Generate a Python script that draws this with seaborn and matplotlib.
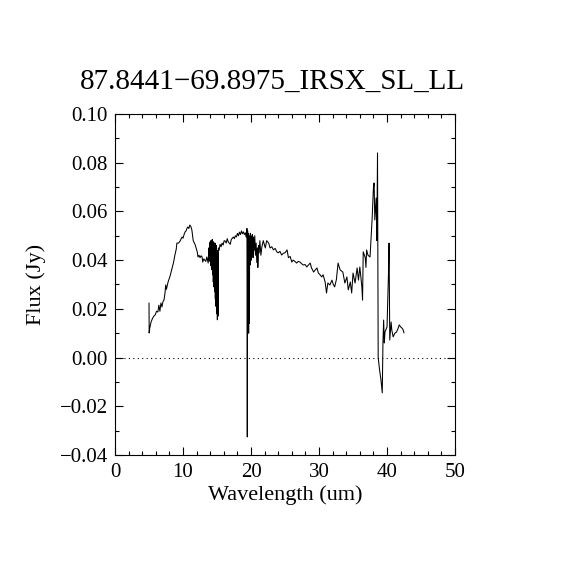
import matplotlib
matplotlib.use("Agg")
import matplotlib.pyplot as plt
from matplotlib.ticker import MultipleLocator
import seaborn as sns
import pandas as pd

title = "87.8441\u221269.8975_IRSX_SL_LL"
xlabel = "Wavelength (um)"
ylabel = "Flux (Jy)"
xticks = [0, 10, 20, 30, 40, 50]
yticks = [-0.04, -0.02, 0.00, 0.02, 0.04, 0.06, 0.08, 0.10]

wl_a = [5.00, 5.02, 5.10, 5.30, 5.50, 5.70, 5.90, 6.10, 6.30, 6.45, 6.60, 6.75, 6.90, 7.05, 7.20, 7.35,
        7.45, 7.55, 7.80, 8.10, 8.40, 8.60, 8.80, 9.00, 9.10, 9.35, 9.60, 9.85, 10.00, 10.15, 10.30,
        10.45, 10.60, 10.70, 10.85, 11.00, 11.15, 11.30, 11.50, 11.80, 12.10, 12.20, 12.35, 12.50,
        12.65, 12.80, 12.90, 13.05, 13.20, 13.35, 13.50, 13.70]
fx_a = [0.0224, 0.0101, 0.0120, 0.0146, 0.0160, 0.0170, 0.0175, 0.0190, 0.0187, 0.0215, 0.0190, 0.0224,
        0.0208, 0.0230, 0.0236, 0.0265, 0.0298, 0.0280, 0.0310, 0.0335, 0.0368, 0.0390, 0.0420, 0.0445,
        0.0470, 0.0470, 0.0480, 0.0495, 0.0490, 0.0505, 0.0516, 0.0520, 0.0532, 0.0536, 0.0530, 0.0544,
        0.0538, 0.0524, 0.0480, 0.0462, 0.0433, 0.0413, 0.0420, 0.0410, 0.0418, 0.0413, 0.0392, 0.0405,
        0.0400, 0.0395, 0.0413, 0.0388]

wl_b = [13.80, 13.85, 13.90, 13.95, 14.00, 14.05, 14.10, 14.15, 14.20, 14.25, 14.30, 14.35, 14.40,
        14.45, 14.50, 14.55, 14.60, 14.65, 14.70, 14.75, 14.80, 14.85, 14.90, 14.95, 15.00, 15.05,
        15.10, 15.15, 15.20]
fx_b = [0.0450, 0.0400, 0.0470, 0.0395, 0.0475, 0.0380, 0.0480, 0.0375, 0.0470, 0.0360, 0.0485,
        0.0340, 0.0470, 0.0310, 0.0475, 0.0290, 0.0460, 0.0270, 0.0470, 0.0240, 0.0455, 0.0210,
        0.0460, 0.0180, 0.0440, 0.0155, 0.0430, 0.0170, 0.0450]

wl_c = [15.30, 15.45, 15.60, 15.75, 15.90, 16.05, 16.20, 16.35, 16.50, 16.65, 16.80, 16.95, 17.10,
        17.25, 17.40, 17.55, 17.70, 17.85, 18.00, 18.15, 18.30, 18.45, 18.60, 18.75, 18.90, 19.05,
        19.20, 19.30, 19.40]
fx_c = [0.0440, 0.0465, 0.0455, 0.0470, 0.0462, 0.0480, 0.0478, 0.0470, 0.0488, 0.0475, 0.0470,
        0.0465, 0.0485, 0.0490, 0.0495, 0.0488, 0.0500, 0.0495, 0.0510, 0.0500, 0.0515, 0.0505,
        0.0520, 0.0508, 0.0516, 0.0505, 0.0512, 0.0495, 0.0530]

wl_d = [19.45, 19.50, 19.55, 19.60, 19.65, 19.70, 19.75, 19.80, 19.85, 19.90, 19.95, 20.00, 20.05,
        20.10, 20.15, 20.20, 20.30, 20.35, 20.45, 20.55, 20.65, 20.75, 20.85, 20.95, 21.00, 21.10,
        21.20, 21.30]
fx_d = [-0.0326, 0.0520, 0.0110, 0.0510, 0.0100, 0.0500, 0.0140, 0.0480, 0.0380, 0.0510, 0.0420,
        0.0500, 0.0400, 0.0490, 0.0430, 0.0505, 0.0410, 0.0495, 0.0440, 0.0500, 0.0420, 0.0470,
        0.0390, 0.0450, 0.0370, 0.0460, 0.0430, 0.0480]

wl_e = [21.45, 21.60, 21.80, 22.10, 22.30, 22.60, 22.80, 23.05, 23.30, 23.55, 23.80, 24.00, 24.25,
        24.50, 24.75, 25.00, 25.30, 25.50, 25.75, 26.00, 26.20, 26.45, 26.70, 26.95, 27.20, 27.45,
        27.70, 27.95, 28.20, 28.45, 28.70, 28.90, 29.20, 29.45, 29.70, 29.90, 30.15, 30.40, 30.60,
        30.90, 31.10, 31.30, 31.60, 31.90, 32.10, 32.30]
fx_e = [0.0420, 0.0455, 0.0480, 0.0450, 0.0480, 0.0470, 0.0450, 0.0455, 0.0442, 0.0448, 0.0434,
        0.0430, 0.0436, 0.0421, 0.0428, 0.0430, 0.0442, 0.0410, 0.0415, 0.0392, 0.0400, 0.0395,
        0.0388, 0.0395, 0.0392, 0.0385, 0.0380, 0.0382, 0.0372, 0.0380, 0.0388, 0.0368, 0.0351,
        0.0360, 0.0368, 0.0347, 0.0340, 0.0331, 0.0340, 0.0310, 0.0265, 0.0306, 0.0298, 0.0318,
        0.0300, 0.0290]

wl_f = [32.55, 32.80, 33.10, 33.50, 33.80, 34.10, 34.30, 34.60, 34.80, 35.00, 35.30, 35.60, 35.80,
        36.00, 36.30, 36.40, 36.50, 36.80, 36.90, 37.00, 37.20, 37.50, 37.80, 38.00, 38.10, 38.20,
        38.40, 38.50, 38.60, 38.65, 38.70, 38.90, 39.10, 39.30, 39.40, 39.50, 39.60, 39.70, 40.00,
        40.20, 40.30, 40.40, 40.60, 40.70, 40.90, 41.15, 41.40, 41.60, 41.80, 42.00, 42.20, 42.35,
        42.50]
fx_f = [0.0320, 0.0388, 0.0360, 0.0351, 0.0306, 0.0331, 0.0278, 0.0310, 0.0265, 0.0347, 0.0306,
        0.0368, 0.0318, 0.0372, 0.0290, 0.0236, 0.0434, 0.0410, 0.0370, 0.0442, 0.0420, 0.0413,
        0.0565, 0.0696, 0.0717, 0.0565, 0.0655, 0.0480, 0.0840, 0.0413, 0.0000, -0.0050, -0.0090,
        -0.0145, 0.0060, 0.0154, 0.0060, 0.0105, 0.0126, 0.0330, 0.0470, 0.0072, 0.0146, 0.0113,
        0.0085, 0.0100, 0.0105, 0.0118, 0.0134, 0.0126, 0.0121, 0.0115, 0.0101]

wavelength = wl_a + wl_b + wl_c + wl_d + wl_e + wl_f
flux = fx_a + fx_b + fx_c + fx_d + fx_e + fx_f
df = pd.DataFrame({"wavelength": wavelength, "flux": flux})

sns.set_style("white")
plt.rcParams["font.family"] = ["Liberation Serif", "DejaVu Serif"]
plt.rcParams["axes.unicode_minus"] = True

fig = plt.figure(figsize=(5.7, 5.7), dpi=100)
ax = fig.add_axes([0.2018, 0.2018, 0.5965, 0.5982])
sns.lineplot(data=df, x="wavelength", y="flux", estimator=None, sort=False,
             color="black", linewidth=0.75, ax=ax)
ax.axhline(0.0, color="black", linewidth=0.8, linestyle=(0, (1, 3)))

ax.set_xlim(0, 50)
ax.set_ylim(-0.04, 0.10)
ax.set_xticks(xticks)
ax.set_yticks(yticks)
ax.set_xticklabels([str(v) for v in xticks])
ax.set_yticklabels([f"{v:.2f}".replace("-", "\u2212") for v in yticks])
ax.xaxis.set_minor_locator(MultipleLocator(2))
ax.yaxis.set_minor_locator(MultipleLocator(0.01))
ax.tick_params(which="both", direction="in", top=True, right=True, bottom=True, left=True,
               color="black", width=0.8, labelsize=15, labelcolor="black")
ax.tick_params(which="major", length=6)
ax.tick_params(which="minor", length=3)
ax.tick_params(axis="x", which="major", pad=6)
ax.tick_params(axis="y", which="major", pad=5)
for s in ax.spines.values():
    s.set_color("black")
    s.set_linewidth(0.8)
ax.set_xlabel(xlabel, fontsize=16, color="black", labelpad=2)
ax.set_ylabel(ylabel, fontsize=16, color="black", labelpad=10)
fig.text(272 / 570, 1 - 82 / 570, title, ha="center", va="center", fontsize=21, color="black")
fig.savefig("out.png", dpi=100, facecolor="white")
